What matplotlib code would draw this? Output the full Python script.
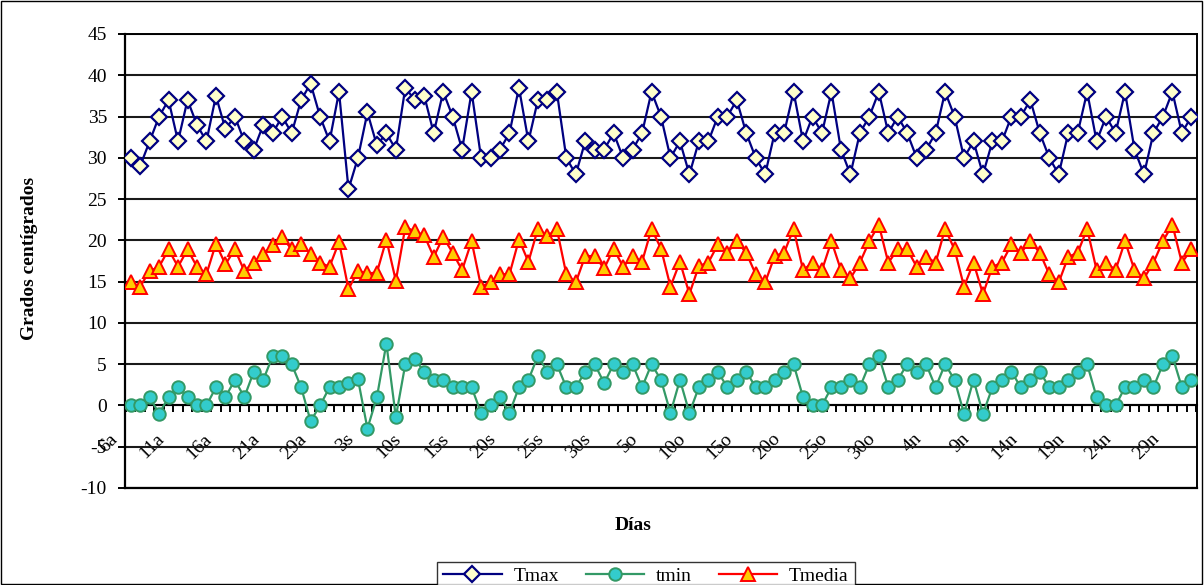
import matplotlib
matplotlib.use("Agg")
import matplotlib.pyplot as plt
import matplotlib.transforms as mtransforms
from matplotlib.patches import Rectangle
import numpy as np

plt.rcParams['font.family'] = ['Liberation Serif', 'DejaVu Serif']
plt.rcParams['axes.unicode_minus'] = False

# Datos diarios (grados centigrados)
tmax = [30, 29, 32, 35, 37, 32, 37, 34, 32, 37.5,
        33.5, 35, 32, 31, 34, 33, 35, 33, 37, 39,
        35, 32, 38, 26.2, 30, 35.5, 31.5, 33, 31, 38.5,
        37, 37.5, 33, 38, 35, 31, 38, 30, 30, 31,
        33, 38.5, 32, 37, 37, 38, 30, 28, 32, 31,
        31, 33, 30, 31, 33, 38, 35, 30, 32, 28,
        32, 32, 35, 35, 37, 33, 30, 28, 33, 33,
        38, 32, 35, 33, 38, 31, 28, 33, 35, 38,
        33, 35, 33, 30, 31, 33, 38, 35, 30, 32,
        28, 32, 32, 35, 35, 37, 33, 30, 28, 33,
        33, 38, 32, 35, 33, 38, 31, 28, 33, 35,
        38, 33, 35]

tmin = [0, 0, 1, -1, 1, 2.2, 1, 0, 0, 2.2,
        1, 3.1, 1, 4.1, 3.1, 6, 6, 5, 2.2, -1.9,
        0, 2.2, 2.2, 2.7, 3.2, -2.8, 1, 7.5, -1.4, 5,
        5.6, 4.1, 3.1, 3.1, 2.2, 2.2, 2.2, -0.9, 0.1, 1,
        -0.9, 2.2, 3.1, 6, 4.1, 5, 2.2, 2.2, 4.1, 5,
        2.7, 5, 4.1, 5, 2.2, 5, 3.1, -0.9, 3.1, -0.9,
        2.2, 3.1, 4.1, 2.2, 3.1, 4.1, 2.2, 2.2, 3.1, 4.1,
        5, 1, 0, 0, 2.2, 2.2, 3.1, 2.2, 5, 6,
        2.2, 3.1, 5, 4.1, 5, 2.2, 5, 3.1, -1, 3.1,
        -1, 2.2, 3.1, 4.1, 2.2, 3.1, 4.1, 2.2, 2.2, 3.1,
        4.1, 5, 1, 0, 0, 2.2, 2.2, 3.1, 2.2, 5,
        6, 2.2, 3.1]

tmedia = [14.9, 14.4, 16.3, 16.8, 18.9, 16.8, 18.9, 16.8, 15.9, 19.6,
          17.1, 18.9, 16.3, 17.3, 18.4, 19.4, 20.4, 18.9, 19.5, 18.4,
          17.3, 16.8, 19.8, 14.1, 16.3, 16, 16.1, 20.1, 15.1, 21.6,
          21.1, 20.6, 18, 20.4, 18.5, 16.4, 19.9, 14.4, 14.9, 15.9,
          15.9, 20.1, 17.4, 21.4, 20.5, 21.4, 15.9, 14.9, 18.1, 18.1,
          16.6, 19, 16.8, 18.1, 17.4, 21.4, 19, 14.4, 17.4, 13.5,
          16.9, 17.3, 19.5, 18.5, 19.9, 18.5, 15.9, 14.9, 18.1, 18.5,
          21.4, 16.4, 17.3, 16.4, 19.9, 16.4, 15.4, 17.3, 19.9, 21.9,
          17.3, 18.9, 18.9, 16.8, 18, 17.3, 21.4, 18.9, 14.4, 17.3,
          13.5, 16.8, 17.3, 19.5, 18.5, 19.9, 18.5, 15.9, 14.9, 18,
          18.5, 21.4, 16.4, 17.3, 16.4, 19.9, 16.4, 15.4, 17.3, 19.9,
          21.9, 17.3, 18.9]

etiquetas = ['6a', '11a', '16a', '21a', '29a', '3s', '10s', '15s', '20s', '25s',
             '30s', '5o', '10o', '15o', '20o', '25o', '30o', '4n', '9n', '14n',
             '19n', '24n', '29n']
paso_etiqueta = 5

n = len(tmax)
x = np.arange(n)
fs = 14

fig = plt.figure(figsize=(12.04, 5.85), dpi=100)
ax = fig.add_axes([125 / 1204, 1 - 488 / 585, 1072 / 1204, 454 / 585])

ax.plot(x, tmax, color='#000080', lw=1.6, marker='D', markersize=8,
        markerfacecolor='#FFFFCC', markeredgecolor='#000080', markeredgewidth=1.6,
        label='Tmax', zorder=4)
ax.plot(x, tmin, color='#339966', lw=1.6, marker='o', markersize=9,
        markerfacecolor='#33CCCC', markeredgecolor='#339966', markeredgewidth=1.4,
        label='tmin', zorder=4)
ax.plot(x, tmedia, color='#FF0000', lw=1.6, marker='^', markersize=9.5,
        markerfacecolor='#FFCC00', markeredgecolor='#FF0000', markeredgewidth=1.4,
        label='Tmedia', zorder=4)

# Ejes
ax.set_xlim(-0.6, n - 0.4)
ax.set_ylim(-10, 45)
ax.set_yticks(np.arange(-10, 46, 5))
ax.grid(True, axis='y', color='#1a1a1a', lw=1.5)
ax.set_axisbelow(True)

ax.spines['bottom'].set_position(('data', 0))
ax.spines['bottom'].set_linewidth(1.5)
ax.spines['left'].set_linewidth(1.6)
ax.spines['right'].set_linewidth(1.4)
ax.spines['top'].set_linewidth(1.4)
ax.axhline(-10, color='black', lw=1.6, clip_on=False)

ax.set_xticks(x[::paso_etiqueta])
ax.set_xticklabels(etiquetas, rotation=45, ha='right', va='top', fontsize=fs)
ax.set_xticks(np.arange(-0.5, n, 1), minor=True)
ax.tick_params(axis='x', which='major', length=0, pad=0)
ax.tick_params(axis='x', which='minor', length=5, width=1.4, direction='out')
ax.tick_params(axis='y', length=5, width=1.4, direction='out', labelsize=fs, pad=8)

desplazamiento = mtransforms.ScaledTranslation(-0.10, -0.25, fig.dpi_scale_trans)
for lab in ax.get_xticklabels():
    lab.set_transform(lab.get_transform() + desplazamiento)

fig.text(30 / 1204, 1 - 258 / 585, 'Grados centígrados', rotation=90,
         ha='center', va='center', fontsize=fs, fontweight='bold')
fig.text(633 / 1204, 1 - 525 / 585, 'Días', ha='center', va='center',
         fontsize=fs, fontweight='bold')

leg = fig.legend(loc='upper center', bbox_to_anchor=(646 / 1204, 1 - 552 / 585),
                 ncol=3, frameon=True, fancybox=False, fontsize=fs,
                 handlelength=3.0, columnspacing=1.4, borderpad=0.3,
                 handletextpad=0.6)
leg.get_frame().set_edgecolor('black')
leg.get_frame().set_linewidth(1.0)

fig.patches.append(Rectangle((0.001, 0.001), 0.997, 0.997, transform=fig.transFigure,
                             fill=False, edgecolor='black', lw=1.0))

fig.savefig('out.png', dpi=100)
